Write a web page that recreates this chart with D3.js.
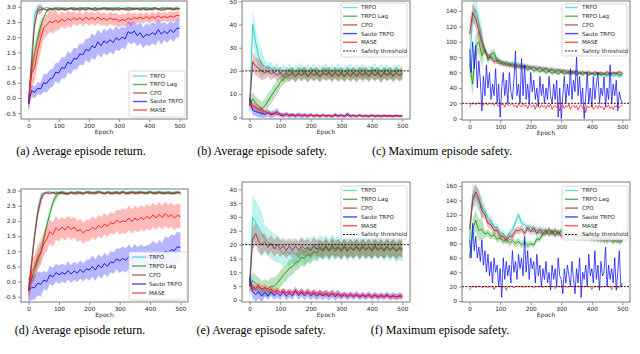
<!DOCTYPE html>
<html><head><meta charset="utf-8">
<script src="https://cdn.jsdelivr.net/npm/d3@7"></script>
<style>body{margin:0;background:#fff}svg{display:block}</style>
</head><body>
<svg id="chart" width="640" height="354"></svg>
<script>
// ---------------- DATA ----------------
const seriesNames = ["TRPO", "TRPO Lag", "CPO", "Saute TRPO", "MASE"];
const thresholdLabel = "Safety threshold";
const threshold = 20;
const epochTicks = [0, 100, 200, 300, 400, 500];
const captions = ["(a) Average episode return.", "(b) Average episode safety.", "(c) Maximum episode safety.",
                  "(d) Average episode return.", "(e) Average episode safety.", "(f) Maximum episode safety."];
const yTicksA = [-0.5, 0.0, 0.5, 1.0, 1.5, 2.0, 2.5, 3.0];
const yTicksB = [0, 10, 20, 30, 40, 50];
const yTicksC = [0, 20, 40, 60, 80, 100, 120, 140];
const yTicksD = [-0.5, 0.0, 0.5, 1.0, 1.5, 2.0, 2.5, 3.0];
const yTicksE = [0, 5, 10, 15, 20, 25, 30, 35, 40];
const yTicksF = [0, 20, 40, 60, 80, 100, 120, 140, 160];

// (a) average return, values every 10 epochs
const a_trpo = [-0.2,1.4,2.75,2.95,2.97,2.94,2.98,2.95,2.93,2.97,
 2.98,2.94,2.97,2.93,2.96,2.98,2.94,2.97,2.94,2.98,
 2.96,2.93,2.97,2.94,2.96,2.98,2.94,2.97,2.95,2.98,
 2.96,2.93,2.97,2.98,2.94,2.96,2.93,2.97,2.95,2.98,
 2.96,2.94,2.97,2.93,2.96,2.98,2.94,2.97,2.95,2.96,2.95];
const a_lag = [-0.2,0.9,1.5,1.95,2.35,2.65,2.85,2.92,2.93,2.95,
 2.92,2.96,2.93,2.92,2.96,2.93,2.92,2.95,2.96,2.92,
 2.95,2.92,2.96,2.93,2.92,2.95,2.96,2.92,2.95,2.92,
 2.96,2.93,2.92,2.95,2.96,2.92,2.95,2.92,2.96,2.93,
 2.92,2.95,2.96,2.92,2.95,2.92,2.96,2.93,2.92,2.95,2.94];
const a_cpo = [-0.15,1.1,2.4,2.88,2.91,2.93,2.89,2.93,2.9,2.94,
 2.9,2.93,2.89,2.93,2.94,2.9,2.93,2.89,2.93,2.9,
 2.94,2.92,2.89,2.91,2.93,2.94,2.9,2.93,2.89,2.93,
 2.9,2.94,2.92,2.89,2.91,2.93,2.94,2.9,2.93,2.89,
 2.93,2.9,2.94,2.92,2.89,2.91,2.93,2.94,2.9,2.93,2.92];
const a_saute = [-0.2,0.25,0.18,0.32,0.3,0.5,0.48,0.62,0.66,0.85,
 0.82,1.0,0.98,1.18,1.12,1.3,1.28,1.45,1.42,1.6,
 1.55,1.72,1.65,1.85,1.72,1.88,1.8,1.92,1.82,1.98,
 1.9,2.0,1.95,2.18,2.12,2.2,2.05,2.15,1.98,2.1,
 2.05,2.15,2.08,2.25,2.1,2.2,2.12,2.25,2.15,2.28,2.3];
const a_mase = [-0.1,0.8,1.0,1.55,1.95,2.3,2.4,2.52,2.48,2.56,
 2.48,2.6,2.52,2.62,2.55,2.64,2.56,2.65,2.55,2.66,
 2.58,2.65,2.57,2.66,2.58,2.62,2.55,2.63,2.58,2.6,
 2.52,2.58,2.55,2.63,2.57,2.65,2.6,2.66,2.6,2.68,
 2.6,2.68,2.62,2.7,2.63,2.69,2.64,2.7,2.65,2.72,2.7];
// band half-widths, one value per 50 epochs
const a_trpo_sd = [0.15,0.03,0.03,0.03,0.03,0.03,0.03,0.03,0.03,0.03,0.03];
const a_lag_sd = [0.25,0.05,0.04,0.04,0.04,0.04,0.04,0.04,0.04,0.04,0.04];
const a_cpo_sd = [0.15,0.04,0.04,0.04,0.04,0.04,0.04,0.04,0.04,0.04,0.04];
const a_saute_sd = [0.2,0.3,0.35,0.35,0.4,0.4,0.35,0.35,0.35,0.3,0.3];
const a_mase_sd = [0.45,0.35,0.25,0.2,0.2,0.2,0.2,0.15,0.15,0.15,0.15];

// (b) average safety
const b_trpo = [5,40,32,26,23,22,21,21.5,19.5,21,
 18.5,20.5,19,21,18.5,20,19.5,21,18.5,20.5,
 19,21,18.5,20,19.5,21,18.5,20.5,19,21,
 18.5,20,19.5,21,18.5,20.5,19,21,18.5,20,
 19.5,21,18.5,20.5,19,21,18.5,20,19.5,20.5,19];
const b_lag = [5,8,6,5,3.5,5,7,9,11,13,
 15,16.5,17.5,18,19,17.5,19.5,18,19,17.5,
 19.5,18,19,17.5,19.5,18,19,18,19.5,17.5,
 19,18,19.5,17.5,19,18,19.5,17.5,19,18,
 19.5,18,19,17.5,19.5,18,19,18,19.5,18,19];
const b_cpo = [5,24,22,21,20,19,20,18.5,19.5,18,
 19.5,17.5,19,18,19.5,17.5,19,18,20,17.5,
 19,18,19.5,17.5,19,18.5,19.5,17.5,19,18,
 19.5,17.5,19,18,19.5,17.5,19,18.5,19.5,17.5,
 19,18,19.5,17.5,19,18,19.5,17.5,19,18,18.5];
const b_saute = [8,3,2.5,2,1.8,1.2,2,1,1.5,2.5,
 1,0.6,1.4,0.6,1,0.5,1.2,0.6,0.9,0.5,
 1.1,0.5,0.9,0.4,1,0.5,0.8,0.4,1.2,0.5,
 0.9,0.4,1.5,0.5,0.8,0.4,1,0.5,0.7,0.4,
 0.9,0.5,0.7,0.4,0.8,0.5,0.7,0.4,0.8,0.5,0.6];
const b_mase = [6,5,4.5,3.5,3.2,2.3,2.1,1.6,1.8,1.3,
 1.5,1.0,1.3,0.9,1.2,0.8,1.1,0.7,1.0,0.7,
 1.0,0.6,0.9,0.6,0.9,0.6,0.8,0.5,0.8,0.6,
 0.9,0.5,0.8,0.5,0.8,0.5,0.8,0.4,0.7,0.6,
 0.7,0.4,0.7,0.6,0.5,0.7,0.4,0.7,0.6,0.5,0.6];
const b_trpo_sd = [6,2.5,2.5,2.5,2.5,2.5,2.5,2.5,2.5,2.5,2.5];
const b_lag_sd = [3,3,2.5,2.5,2.5,2.5,2.5,2.5,2.5,2.5,2.5];
const b_cpo_sd = [4,2.5,2.5,2.5,2.5,2.5,2.5,2.5,2.5,2.5,2.5];
const b_saute_sd = [2,1.5,1,1,0.8,0.8,0.8,0.7,0.7,0.6,0.6];
const b_mase_sd = [1.5,0.8,0.6,0.5,0.5,0.4,0.4,0.4,0.4,0.4,0.4];

// (c) maximum safety
const c_trpo = [70,135,142,125,105,90,84,78,80,74,
 76,71,74,70,73,68,72,67,70,66,
 69,65,68,64,67,63,66,62,65,61,
 64,60,63,59,62,59,61,58,61,57,
 60,57,59,56,58,55,58,55,57,55,56];
const c_lag = [70,45,95,100,82,90,76,84,86,76,
 75,70,73,68,71,66,69,65,68,63,
 66,62,64,61,63,60,62,59,61,58,
 61,58,60,58,60,57,59,57,60,57,
 59,57,60,57,59,57,59,58,59,57,58];
const c_cpo = [110,138,130,115,100,88,80,80,74,76,
 71,74,69,72,68,71,67,70,66,69,
 65,68,64,67,63,66,62,65,61,64,
 61,63,60,62,60,62,59,61,59,61,
 58,61,58,60,58,61,58,60,59,61,59];
// every 5 epochs
const c_saute = [90,60,100,65,95,40,75,50,10,55,
 30,70,40,60,25,45,30,65,20,45,
 2,40,60,30,50,20,60,35,25,50,
 88,30,45,20,78,30,70,25,45,20,
 60,35,50,25,40,15,55,30,45,20,
 40,25,55,30,20,45,25,50,2,40,
 0,30,55,20,45,30,65,25,50,35,
 80,30,55,20,40,0,30,60,20,40,
 15,55,25,45,60,20,40,30,55,15,
 40,25,70,20,45,30,50,10,35,25,20];
const c_mase = [15,20,19,20,18,20,20,19,20,17,
 20,19,18,20,19,20,17,20,19,16,
 20,18,19,15,20,18,17,19,20,16,
 18,14,19,17,15,20,16,18,13,19,
 17,15,18,12,19,16,14,18,15,17,
 13,18,15,19,12,16,17,14,18,10,
 16,18,13,17,15,19,12,16,18,14,
 17,11,16,18,13,15,8,17,14,16,
 19,12,15,17,13,18,14,16,11,17,
 15,18,13,16,12,17,15,19,14,16,18];
const c_trpo_sd = [15,4,3,3,2.5,2.5,2.5,2,2,2,2];
const c_lag_sd = [15,5,3,3,2.5,2.5,2.5,2,2,2,2];
const c_cpo_sd = [12,4,3,3,2.5,2.5,2.5,2,2,2,2];
const c_saute_sd = [0];
const c_mase_sd = [0];

// (d) average return
const d_trpo = [-0.3,0.7,1.6,2.3,2.75,2.92,2.95,2.97,2.92,2.96,
 2.93,2.97,2.95,2.92,2.96,2.93,2.97,2.95,2.92,2.96,
 2.97,2.93,2.95,2.98,2.94,2.92,2.97,2.95,2.93,2.97,
 2.94,2.98,2.93,2.95,2.97,2.93,2.96,2.97,2.93,2.95,
 2.98,2.94,2.93,2.97,2.95,2.92,2.96,2.95,2.92,2.96,2.94];
const d_lag = [-0.3,0.1,0.4,0.7,0.95,1.4,1.85,2.25,2.6,2.82,
 2.9,2.92,2.9,2.89,2.94,2.91,2.9,2.94,2.91,2.95,
 2.91,2.94,2.9,2.94,2.95,2.91,2.94,2.9,2.95,2.92,
 2.9,2.95,2.92,2.9,2.94,2.95,2.91,2.93,2.95,2.9,
 2.94,2.91,2.95,2.93,2.9,2.95,2.92,2.9,2.94,2.95,2.92];
const d_cpo = [-0.3,0.6,1.5,2.25,2.7,2.9,2.93,2.91,2.94,2.9,
 2.93,2.95,2.91,2.9,2.94,2.91,2.95,2.92,2.9,2.94,
 2.95,2.91,2.94,2.96,2.92,2.9,2.95,2.92,2.9,2.95,
 2.92,2.96,2.91,2.93,2.95,2.9,2.94,2.95,2.91,2.93,
 2.96,2.92,2.9,2.95,2.93,2.9,2.95,2.92,2.9,2.94,2.92];
const d_saute = [-0.28,-0.2,-0.2,-0.05,-0.1,0.05,0.0,0.22,0.15,0.3,
 0.22,0.3,0.24,0.36,0.25,0.35,0.28,0.4,0.3,0.42,
 0.38,0.5,0.38,0.55,0.45,0.6,0.5,0.65,0.62,0.75,
 0.68,0.76,0.7,0.82,0.7,0.84,0.74,0.82,0.76,0.8,
 0.78,0.9,0.8,0.92,0.84,1.0,0.95,1.05,1.02,1.15,1.12];
const d_mase = [-0.3,0.35,0.45,0.8,0.95,1.25,1.4,1.65,1.55,1.78,
 1.68,1.8,1.7,1.82,1.72,1.8,1.66,1.72,1.6,1.7,
 1.68,1.8,1.72,1.85,1.78,1.9,1.82,1.95,1.9,2.02,
 1.95,2.0,1.98,2.1,1.98,2.1,2.02,2.12,2.05,2.15,
 2.08,2.2,2.1,2.22,2.12,2.24,2.14,2.2,2.1,2.18,2.15];
const d_trpo_sd = [0.2,0.04,0.04,0.04,0.04,0.04,0.04,0.04,0.04,0.04,0.04];
const d_lag_sd = [0.25,0.15,0.05,0.05,0.05,0.05,0.05,0.05,0.05,0.05,0.05];
const d_cpo_sd = [0.2,0.04,0.04,0.04,0.04,0.04,0.04,0.04,0.04,0.04,0.04];
const d_saute_sd = [0.4,0.3,0.3,0.3,0.35,0.35,0.4,0.4,0.45,0.5,0.5];
const d_mase_sd = [0.4,0.4,0.35,0.35,0.35,0.35,0.4,0.4,0.4,0.4,0.4];

// (e) average safety
const e_trpo = [5,30,28,26,24,22,21,20,19,18.5,
 18,16.5,18,16.5,18,16.5,17.5,18.5,17,18.5,
 18,19.5,18,19.5,18.5,19.5,18,20,18.5,19.5,
 18.5,20,18.5,19.5,18,20,18.5,20,18.5,19.5,
 18.5,20,18.5,20,18.5,19.5,18,19.5,17.5,18.5,18];
const e_lag = [5,7,6,5,4,4.5,4,5,5,6,
 7.5,9,10,11.5,12,13.5,14,15.5,15,16.5,
 16,17.5,17,18.5,17.5,19,17.5,19,17.5,19,
 17.5,19,17.5,19,18,19,17.5,19,18,19,
 17.5,19,18,19,17.5,19,18,19,17.5,18.5,18];
const e_cpo = [5,22,24,21,20,21,19,20.5,18.5,20,
 18.5,19.5,18,19.5,18,19.5,18,19.5,18.5,19,
 18,19.5,18.5,19,18,19.5,18,19.5,18.5,19,
 18,19.5,18,19,18,19.5,18,19.5,18,19,
 18,19.5,18,19,18,19.5,18,19,18,19,18.5];
const e_saute = [8,3,2,3,1.5,2.8,1.5,3,1.5,2.6,
 1.5,3,1.4,2.5,1.5,3.5,1.6,2.8,1.5,2.8,
 1.5,2.4,1.4,2.2,1.5,2.2,1.3,2.4,1.2,2.2,
 1.2,2,1.1,2,1.2,2.1,1,1.9,1.1,2,
 1,1.8,1,1.7,1.1,1.9,1,1.6,1.1,1.5,1.4];
const e_mase = [5,4.5,4.2,5,4,4.4,3.6,3.8,3.1,3.4,
 2.8,3.2,2.7,3.0,2.7,3.0,2.5,3.0,2.4,2.9,
 2.3,2.8,2.2,2.7,2.1,2.4,2.1,2.3,1.9,2.1,
 1.7,2.0,1.6,1.9,1.5,1.8,1.5,1.7,1.4,1.7,
 1.3,1.6,1.3,1.5,1.3,1.5,1.2,1.4,1.2,1.3,1.2];
const e_trpo_sd = [8,5,4.5,4.5,4,4,4,4,4,4,4];
const e_lag_sd = [3,3,3,3,3,3,3,3,3,3,3];
const e_cpo_sd = [4,3,3,3,3,3,3,3,3,3,3];
const e_saute_sd = [2.5,1.5,1.5,1.5,1.5,1.5,1.2,1.2,1.2,1.2,1.2];
const e_mase_sd = [1.2,1.2,1,1,1,1,0.8,0.8,0.8,0.8,0.8];

// (f) maximum safety
const f_trpo = [85,148,145,140,130,126,116,112,103,102,
 95,94,88,95,98,110,120,108,106,100,
 104,96,100,94,100,95,99,92,98,93,
 97,92,96,90,95,89,94,88,93,87,
 92,86,91,85,90,84,89,83,88,82,84];
const f_lag = [60,100,112,98,100,93,95,90,92,86,
 88,83,86,81,84,80,83,78,82,77,
 80,78,86,86,94,93,100,94,99,93,
 98,92,95,90,96,90,93,88,93,87,
 90,85,90,84,89,83,88,82,87,83,85];
const f_cpo = [100,140,152,142,126,120,108,106,98,98,
 90,90,84,90,90,98,98,100,94,102,
 96,102,94,100,93,99,92,98,91,97,
 90,96,89,95,88,94,87,93,86,92,
 85,91,84,90,83,89,84,88,83,86,85];
const f_saute = [85,60,108,70,90,60,75,55,85,50,
 70,40,65,35,55,25,60,40,50,20,
 45,5,60,30,55,35,50,25,70,40,
 55,30,65,45,60,35,90,40,70,30,
 60,45,55,25,65,35,50,20,45,30,
 55,25,40,15,50,30,45,20,60,35,
 30,10,45,25,50,35,20,55,30,10,
 45,25,60,5,40,30,50,20,65,35,
 45,25,70,30,50,15,55,35,40,75,
 20,50,30,45,25,60,15,40,70,20,25];
const f_mase = [15,20,20,20,19,20,20,20,18,20,
 20,20,19,20,20,20,16,20,20,20,
 20,19,20,20,15,20,20,20,20,18,
 20,20,20,20,20,19,20,20,20,20,
 20,20,18,20,20,20,20,20,19,20,
 20,20,20,20,20,20,17,20,20,20,
 20,20,20,20,19,20,20,20,20,20,
 20,20,20,20,20,20,20,20,20,20,
 16,20,20,20,20,18,20,20,20,20,
 20,20,20,16,20,20,20,18,20,20,20];
const f_trpo_sd = [15,6,5,5,5,4,4,4,4,4,4];
const f_lag_sd = [15,5,5,5,4,4,4,4,4,4,4];
const f_cpo_sd = [12,6,5,5,5,4,4,4,4,4,4];
const f_saute_sd = [0];
const f_mase_sd = [0];

// ---------------- STYLE / LAYOUT ----------------
const colors = ["#2fd3cb", "#239a23", "#a83232", "#1010ff", "#ff1a1a"];
const bandOpacity = [0.3, 0.3, 0.3, 0.3, 0.3];
const panels = [
  {means:[a_trpo,a_lag,a_cpo,a_saute,a_mase], sds:[a_trpo_sd,a_lag_sd,a_cpo_sd,a_saute_sd,a_mase_sd],
   L:21, R:187, T:1, B:119, ymin:-0.69, ymax:3.19, yt:yTicksA, fmt:d3.format(".1f"), thr:false,
   leg:{x1:129,y1:71,x2:185,y2:117,y0:76,dy:8.5,h1:133,h2:147,tx:150}, cap:{x:81,y:155}},
  {means:[b_trpo,b_lag,b_cpo,b_saute,b_mase], sds:[b_trpo_sd,b_lag_sd,b_cpo_sd,b_saute_sd,b_mase_sd],
   L:242, R:410, T:1, B:119, ymin:-0.73, ymax:50.13, yt:yTicksB, fmt:d3.format("d"), thr:true, mode:"safe",
   leg:{x1:341,y1:3,x2:407,y2:57,y0:7.5,dy:8.7,h1:343,h2:357,tx:361}, cap:{x:262,y:155}},
  {means:[c_trpo,c_lag,c_cpo,c_saute,c_mase], sds:[c_trpo_sd,c_lag_sd,c_cpo_sd,c_saute_sd,c_mase_sd],
   L:462, R:630, T:1, B:120, ymin:-1.7, ymax:153, yt:yTicksC, fmt:d3.format("d"), thr:true, mode:"max",
   leg:{x1:562,y1:4,x2:627,y2:56,y0:7.5,dy:8.7,h1:565,h2:578,tx:582}, cap:{x:442,y:155}},
  {means:[d_trpo,d_lag,d_cpo,d_saute,d_mase], sds:[d_trpo_sd,d_lag_sd,d_cpo_sd,d_saute_sd,d_mase_sd],
   L:21, R:188, T:189, B:302, ymin:-0.675, ymax:3.056, yt:yTicksD, fmt:d3.format(".1f"), thr:false,
   leg:{x1:129,y1:252,x2:187,y2:300,y0:257,dy:9,h1:132,h2:146,tx:149}, cap:{x:80,y:334}},
  {means:[e_trpo,e_lag,e_cpo,e_saute,e_mase], sds:[e_trpo_sd,e_lag_sd,e_cpo_sd,e_saute_sd,e_mase_sd],
   L:242, R:410, T:182, B:302, ymin:-0.72, ymax:42.64, yt:yTicksE, fmt:d3.format("d"), thr:true, mode:"safe",
   leg:{x1:341,y1:186,x2:407,y2:239,y0:190.5,dy:8.8,h1:343,h2:357,tx:361}, cap:{x:261,y:334}},
  {means:[f_trpo,f_lag,f_cpo,f_saute,f_mase], sds:[f_trpo_sd,f_lag_sd,f_cpo_sd,f_saute_sd,f_mase_sd],
   L:462, R:630, T:182, B:302, ymin:-1.4, ymax:165.6, yt:yTicksF, fmt:d3.format("d"), thr:true, mode:"max",
   leg:{x1:562,y1:186,x2:628,y2:240,y0:190.5,dy:8.8,h1:565,h2:578,tx:582}, cap:{x:440,y:334}}
];

const svg = d3.select("#chart");
const tickFont = "DejaVu Sans, sans-serif";
const frameColor = "#7a7a7a";
const textColor = "#262626";

panels.forEach((p, pi) => {
  const x = d3.scaleLinear().domain([-25, 525]).range([p.L, p.R]);
  const y = d3.scaleLinear().domain([p.ymin, p.ymax]).range([p.B, p.T]);
  const g = svg.append("g");
  const clipId = "clip" + pi;
  svg.append("clipPath").attr("id", clipId).append("rect")
    .attr("x", p.L).attr("y", p.T).attr("width", p.R - p.L).attr("height", p.B - p.T);
  const plot = g.append("g").attr("clip-path", `url(#${clipId})`);

  p.means.forEach((vals, si) => {
    const sdArr = p.sds[si];
    const step = 500 / (vals.length - 1);
    const pts = vals.map((v, j) => {
      const e = j * step;
      const s = sdArr[Math.min(sdArr.length - 1, Math.floor(e / 50))];
      return {e, v, s};
    });
    if (d3.max(pts, d => d.s) > 0) {
      plot.append("path").datum(pts)
        .attr("d", d3.area().x(d => x(d.e)).y0(d => y(d.v - d.s)).y1(d => y(d.v + d.s)))
        .attr("fill", colors[si]).attr("fill-opacity", bandOpacity[si]);
    }
    const isMaxNoisy = p.mode === "max" && si >= 3;
    plot.append("path").datum(pts)
      .attr("d", d3.line().x(d => x(d.e)).y(d => y(d.v)))
      .attr("fill", "none").attr("stroke", colors[si])
      .attr("stroke-width", 1).attr("stroke-opacity", isMaxNoisy ? 0.75 : 0.95)
      .attr("stroke-linejoin", "round");
  });

  if (p.thr) {
    plot.append("line").attr("x1", p.L).attr("x2", p.R)
      .attr("y1", y(threshold)).attr("y2", y(threshold))
      .attr("stroke", "#000").attr("stroke-width", 0.9).attr("stroke-dasharray", "2,1.3");
  }

  // frame
  g.append("rect").attr("x", p.L).attr("y", p.T).attr("width", p.R - p.L).attr("height", p.B - p.T)
    .attr("fill", "none").attr("stroke", frameColor).attr("stroke-width", 1);

  // axes
  const xa = g.append("g").attr("transform", `translate(0,${p.B})`)
    .call(d3.axisBottom(x).tickValues(epochTicks).tickSize(3).tickPadding(1.5));
  const ya = g.append("g").attr("transform", `translate(${p.L},0)`)
    .call(d3.axisLeft(y).tickValues(p.yt).tickFormat(p.fmt).tickSize(3).tickPadding(2));
  [xa, ya].forEach(a => {
    a.select(".domain").remove();
    a.selectAll("line").attr("stroke", frameColor).attr("stroke-width", 0.8);
    a.selectAll("text").attr("font-family", tickFont).attr("font-size", 5.8).attr("fill", textColor);
  });
  ya.selectAll("text").text(d => d < 0 ? "-" + p.fmt(-d) : p.fmt(d));

  g.append("text").attr("x", x(250)).attr("y", p.B + 15)
    .attr("text-anchor", "middle").attr("font-family", tickFont).attr("font-size", 6)
    .attr("fill", textColor).text("Epoch");

  // legend
  const lg = p.leg;
  g.append("rect").attr("x", lg.x1).attr("y", lg.y1).attr("width", lg.x2 - lg.x1).attr("height", lg.y2 - lg.y1)
    .attr("rx", 1.5).attr("fill", "#fff").attr("fill-opacity", 0.85)
    .attr("stroke", "#cfcfcf").attr("stroke-width", 0.8);
  const labels = p.thr ? seriesNames.concat([thresholdLabel]) : seriesNames;
  labels.forEach((lab, k) => {
    const yy = lg.y0 + k * lg.dy;
    const isThr = k === 5;
    g.append("line").attr("x1", lg.h1).attr("x2", lg.h2).attr("y1", yy).attr("y2", yy)
      .attr("stroke", isThr ? "#000" : colors[k])
      .attr("stroke-width", isThr ? 0.9 : 1.4)
      .attr("stroke-opacity", isThr ? 1 : 0.75)
      .attr("stroke-dasharray", isThr ? "2,1.3" : null);
    g.append("text").attr("x", lg.tx).attr("y", yy).attr("dy", "0.35em")
      .attr("font-family", tickFont).attr("font-size", 5.6).attr("fill", textColor).text(lab);
  });

  // caption
  svg.append("text").attr("x", p.cap.x).attr("y", p.cap.y).attr("text-anchor", "middle")
    .attr("font-family", "Liberation Serif, Times New Roman, serif").attr("font-size", 12)
    .attr("fill", "#000").text(captions[pi]);
});
</script>
</body></html>
